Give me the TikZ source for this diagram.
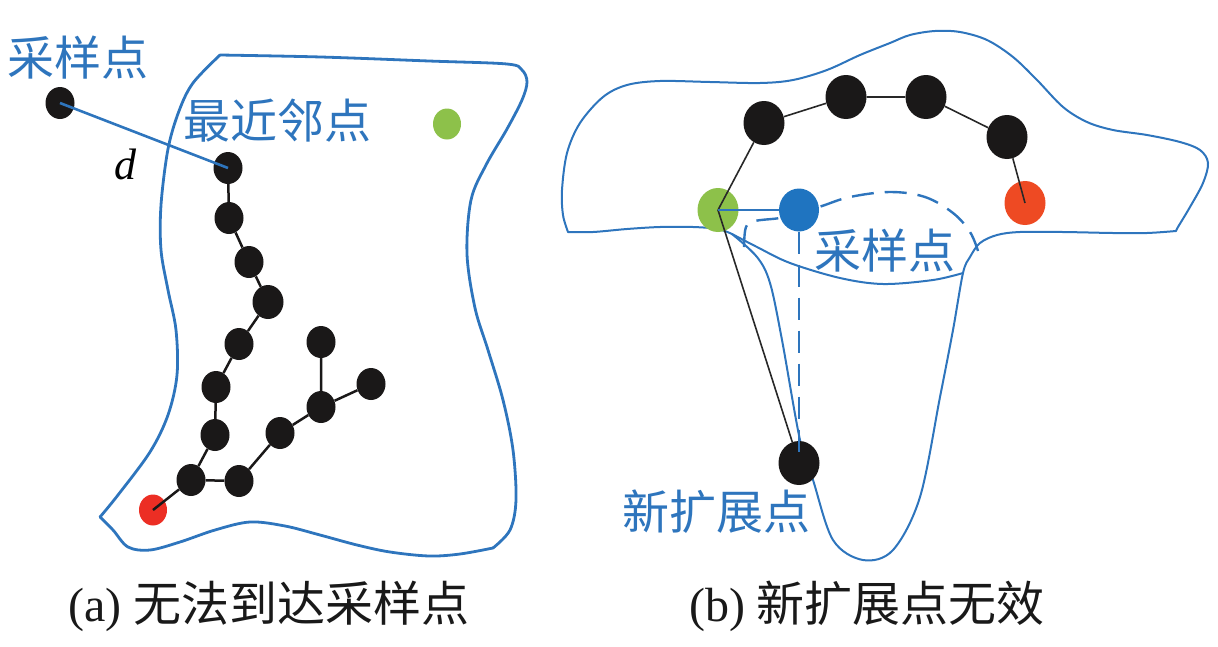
\documentclass[tikz,border=0pt]{standalone}
\usepackage{fontspec}
\setmainfont{Liberation Serif}
\newfontfamily\cjk{Noto Sans CJK SC}
\usetikzlibrary{shapes.geometric}
\definecolor{lblue}{RGB}{46,117,189}
\definecolor{dblue}{RGB}{31,116,192}
\definecolor{dgreen}{RGB}{141,193,74}
\definecolor{redA}{RGB}{236,46,36}
\definecolor{redB}{RGB}{238,74,35}
\definecolor{nblack}{RGB}{26,24,24}
\definecolor{eblack}{RGB}{40,40,40}
\begin{document}
\begin{tikzpicture}[x=1pt,y=-1pt,
  dotA/.style={ellipse, inner sep=0pt, minimum width=29pt, minimum height=32pt, fill=nblack},
  dotB/.style={ellipse, inner sep=0pt, minimum width=41pt, minimum height=44pt, fill=nblack},
  bndA/.style={draw=lblue, line width=2.8pt, line join=round, line cap=round},
  bndB/.style={draw=lblue, line width=2.0pt, line join=round, line cap=round},
  edgeA/.style={draw=nblack, line width=2.5pt},
  edgeB/.style={draw=eblack, line width=1.6pt},
  dashB/.style={draw=lblue, line width=2.4pt, dash pattern=on 22pt off 11pt},
  bluelab/.style={text=lblue, font=\cjk\fontsize{47}{50}\selectfont, inner sep=0pt},
  captext/.style={text=black!90, font=\fontsize{48}{52}\selectfont, inner sep=0pt}]
\useasboundingbox (0,0) rectangle (1218,646);

% ---------------- (a) boundary ----------------
\draw[bndA] plot[smooth, tension=0.55] coordinates {(220,55) (321,57) (429,61) (507,64) (522,70) (527,82) (522,100) (507,129) (486,165) (471,200) (467,254) (475,308) (488,350) (503,400) (513,450) (516,500) (510,530) (493,548)};
\draw[bndA] plot[smooth, tension=0.55] coordinates {(493,548) (460,554) (429,556) (390,552) (357,545) (320,535) (285,526) (250,522) (215,530) (180,542) (150,550) (128,547) (113,530) (100,517)};
\draw[bndA] plot[smooth, tension=0.55] coordinates {(100,517) (118,495) (150,452) (168,415) (177,375) (176,330) (168,290) (161,250) (161,205) (168,149) (179,111) (193,83) (220,55)};

% ---------------- (a) nodes ----------------
\node[dotA] (s) at (60,103) {};
\node[dotA] (n0) at (228,168) {};
\node[dotA] (n1) at (229,218) {};
\node[dotA] (n2) at (249,262) {};
\node[dotA, minimum width=31pt, minimum height=34pt] (n3) at (268,302) {};
\node[dotA] (n4) at (239,344) {};
\node[dotA] (n5) at (216,387) {};
\node[dotA] (n6) at (215,435) {};
\node[dotA] (n7) at (191,480) {};
\node[dotA] (n8) at (239,481) {};
\node[dotA] (n9) at (280,433) {};
\node[dotA] (n10) at (321,407) {};
\node[dotA] (n11) at (321,342) {};
\node[dotA] (n12) at (371,384) {};
\node[dotA, fill=redA, minimum width=28pt, minimum height=31pt] (ra) at (153,510) {};
\node[dotA, fill=dgreen, minimum width=28pt, minimum height=31pt] (ga) at (447,124) {};

% ---------------- (a) edges ----------------
\draw[edgeA] (n0) -- (n1) -- (n2) -- (n3) -- (n4) -- (n5) -- (n6) -- (n7);
\draw[edgeA] (n7) -- (n8) -- (n9) -- (n10) -- (n11);
\draw[edgeA] (n10) -- (n12);
\draw[edgeA] (ra.center) -- (n7);
\draw[draw=lblue, line width=2.6pt] (s.center) -- (n0.center);

% ---------------- (a) labels ----------------
\node[bluelab] (labSa) at (78,58) {采样点};
\node[bluelab] (labN) at (277,121) {最近邻点};
\node[inner sep=0pt, font=\itshape\fontsize{44}{48}\selectfont] (dlab) at (125,164) {d};
\node[captext] (capA) at (269,606) {(a) {\cjk 无法到达采样点}};

% ---------------- (b) boundary ----------------
\draw[bndB] plot[smooth, tension=0.55] coordinates {(568,232) (593,232) (627,229) (660,227) (693,227) (718,229) (732,234)};
\draw[bndB] plot[smooth, tension=0.55] coordinates {(732,234) (757,257) (770,283) (782,340) (800,440) (813,480) (833,540) (863,560) (893,550) (920,497) (940,397) (953,330) (963,273) (970,257) (980,243) (997,235) (1020,232) (1063,232) (1113,233) (1147,233) (1176,231)};
\draw[bndB] plot[smooth, tension=0.55] coordinates {(1176,231) (1178,227) (1190,207) (1203,183) (1208,163) (1200,150) (1180,142) (1147,135) (1113,130) (1087,122) (1063,107) (1037,80) (1013,57) (987,40) (960,32) (935,31) (910,35) (890,43) (860,55) (827,70) (793,80) (760,83) (710,82) (660,81) (627,85) (603,97) (580,123) (567,153) (562,190) (563,215) (568,232)};
\draw[bndB] plot[smooth, tension=0.55] coordinates {(732,234) (757,247) (790,263) (840,278) (883,284) (933,280) (963,273)};

% dashed curve round the sample point
\draw[dashB] plot[smooth, tension=0.6] coordinates {(744,247) (746,227) (755,221) (780,218) (800,213) (822,206) (850,197) (890,192) (925,197) (953,213) (970,232) (978,251)};

% ---------------- (b) nodes ----------------
\node[dotB] (b1) at (764,123) {};
\node[dotB] (b2) at (846,97) {};
\node[dotB] (b3) at (926,97) {};
\node[dotB] (b4) at (1007,137) {};
\node[dotB, fill=redB] (rb) at (1025,203) {};
\node[dotB, fill=dgreen] (gb) at (718,210) {};
\node[dotB, fill=dblue, minimum width=40pt, minimum height=43pt] (bb) at (799,210) {};
\node[dotB] (nb) at (799,463) {};

% ---------------- (b) edges ----------------
\draw[edgeB] (b1) -- (b2) -- (b3) -- (b4);
\draw[edgeB] (b4) -- (rb.center);
\draw[edgeB] (gb.center) -- (b1);
\draw[edgeB] (gb.center) -- (nb);
\draw[draw=lblue, line width=2pt] (gb.center) -- (bb);
\draw[dashB] (bb.south) -- ([yshift=4pt]nb.center);

% ---------------- (b) labels ----------------
\node[bluelab] (labSb) at (885,251) {采样点};
\node[bluelab] (labE) at (716,512) {新扩展点};
\node[captext] (capB) at (867,606) {(b) {\cjk 新扩展点无效}};
\end{tikzpicture}
\end{document}
